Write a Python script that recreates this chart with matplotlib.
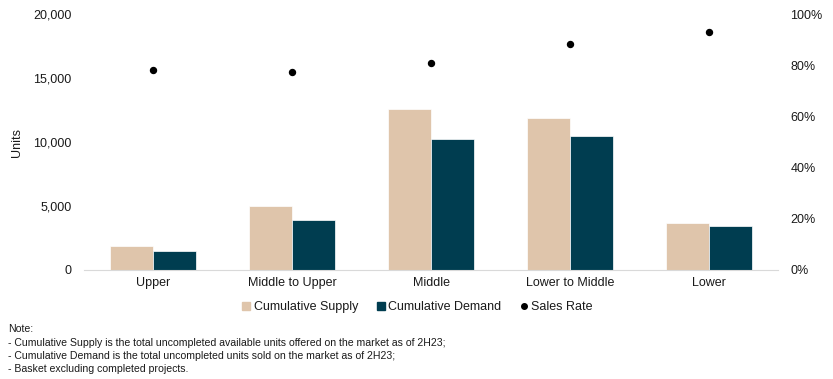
import numpy as np
import matplotlib
matplotlib.use("Agg")
import matplotlib.pyplot as plt
from matplotlib.lines import Line2D
from matplotlib.ticker import FuncFormatter

plt.rcParams["font.family"] = ["Liberation Sans", "DejaVu Sans"]

categories = ["Upper", "Middle to Upper", "Middle", "Lower to Middle", "Lower"]
supply = [1900, 5000, 12600, 11900, 3700]
demand = [1500, 3900, 10200, 10500, 3450]
sales_rate = [78, 77.2, 81, 88.4, 92.8]

note_lines = [
    "Note:",
    "- Cumulative Supply is the total uncompleted available units offered on the market as of 2H23;",
    "- Cumulative Demand is the total uncompleted units sold on the market as of 2H23;",
    "- Basket excluding completed projects.",
]

SUPPLY_C = "#DFC5AB"
DEMAND_C = "#003D50"
TEXT_C = "#1A1A1A"

fig = plt.figure(figsize=(8.33, 3.79), dpi=100)
ax = fig.add_axes([84 / 833, 1 - 270 / 379, (778 - 84) / 833, (270 - 14) / 379])
ax2 = ax.twinx()

x = np.arange(len(categories))
w = 0.31
ax.bar(x - w / 2, supply, w, color=SUPPLY_C, edgecolor="white", linewidth=0.5, zorder=2)
ax.bar(x + w / 2, demand, w, color=DEMAND_C, edgecolor="white", linewidth=0.5, zorder=2)
ax2.plot(x, sales_rate, "o", color="black", markersize=4.3, linestyle="none")

ax.set_xlim(-0.5, len(categories) - 0.5)
ax.set_ylim(0, 20000)
ax.set_yticks(np.arange(0, 20001, 5000))
ax.yaxis.set_major_formatter(FuncFormatter(lambda v, p: f"{int(v):,}"))
ax2.set_ylim(0, 100)
ax2.set_yticks(np.arange(0, 101, 20))
ax2.yaxis.set_major_formatter(FuncFormatter(lambda v, p: f"{int(v)}%"))

ax.set_xticks(x)
ax.set_xticklabels(categories)
for a in (ax, ax2):
    for s in a.spines.values():
        s.set_visible(False)
    a.tick_params(length=0, labelsize=9, colors=TEXT_C)
ax.tick_params(axis="y", pad=9)
ax2.tick_params(axis="y", pad=9)
ax.tick_params(axis="x", pad=5)
ax.spines["bottom"].set_visible(True)
ax.spines["bottom"].set_color("#D9D9D9")
ax.spines["bottom"].set_linewidth(0.8)

ax.set_ylabel("Units", fontsize=9, color=TEXT_C, labelpad=7)

handles = [
    Line2D([], [], marker="s", color=SUPPLY_C, linestyle="none", markersize=6),
    Line2D([], [], marker="s", color=DEMAND_C, linestyle="none", markersize=6),
    Line2D([], [], marker="o", color="black", linestyle="none", markersize=4),
]
fig.legend(handles, ["Cumulative Supply", "Cumulative Demand", "Sales Rate"],
           loc="center", bbox_to_anchor=(0.5, 1 - 307 / 379), ncol=3, frameon=False,
           fontsize=9, handletextpad=0.1, columnspacing=1.3, handlelength=1.0,
           labelcolor=TEXT_C)

ys = [329, 343, 356, 369]
for txt, yy in zip(note_lines, ys):
    fig.text(8 / 833, 1 - yy / 379, txt, fontsize=7.6, va="center", ha="left",
             color=TEXT_C)

fig.savefig("out.png", dpi=100)
